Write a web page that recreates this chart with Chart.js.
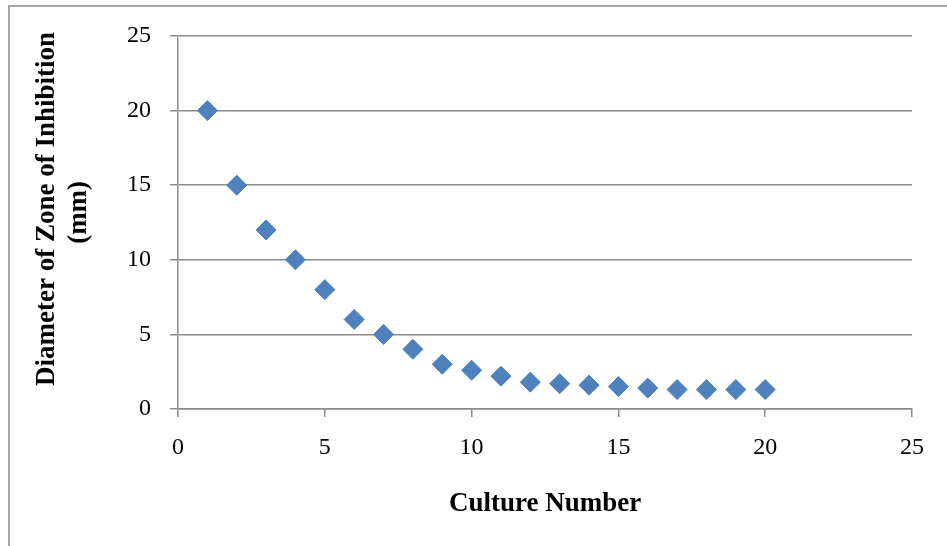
<!DOCTYPE html>
<html>

<head>
  <title>Culture Number vs Zone of Inhibition</title>
  <!-- Include Chart.js -->
  <script src="https://cdn.jsdelivr.net/npm/chart.js"></script>
</head>

<body>
  <!-- Outer chart frame -->
  <div id="frame"></div>

  <!-- Chart Container -->
  <div id="chartContainer">
    <canvas id="zoneChart" width="947" height="546"></canvas>
  </div>

  <script>
    // Data
    const cultureNumbers = [1, 2, 3, 4, 5, 6, 7, 8, 9, 10, 11, 12, 13, 14, 15, 16, 17, 18, 19, 20];
    const zoneDiameters = [20, 15, 12, 10, 8, 6, 5, 4, 3, 2.6, 2.2, 1.8, 1.7, 1.6, 1.5, 1.4, 1.3, 1.3, 1.3, 1.3];
    const xTickValues = [0, 5, 10, 15, 20, 25];
    const yTickValues = [0, 5, 10, 15, 20, 25];

    const points = cultureNumbers.map((x, i) => ({ x: x, y: zoneDiameters[i] }));

    const serif = "'Liberation Serif', 'Times New Roman', serif";
    const gridColor = "#8c8c8c";

    const ctx = document.getElementById("zoneChart").getContext("2d");
    const zoneChart = new Chart(ctx, {
      type: "scatter",
      data: {
        datasets: [{
          label: "Diameter of Zone of Inhibition",
          data: points,
          pointStyle: "rectRot",
          pointRadius: 10,
          pointHoverRadius: 10,
          backgroundColor: "#4f81bd",
          borderColor: "#4a7ebb",
          borderWidth: 1,
        }],
      },
      options: {
        responsive: false,
        animation: false,
        layout: {
          padding: { left: 0, top: 36, right: 35, bottom: 0 },
        },
        plugins: {
          legend: { display: false },
          tooltip: { enabled: false },
        },
        scales: {
          x: {
            type: "linear",
            min: 0,
            max: 25,
            afterBuildTicks: (scale) => {
              scale.ticks = xTickValues.map((v) => ({ value: v }));
            },
            afterFit: (scale) => {
              scale.height = 137;
            },
            ticks: {
              color: "#000",
              padding: 16,
              maxRotation: 0,
              font: { family: serif, size: 24 },
            },
            grid: {
              drawOnChartArea: false,
              drawTicks: true,
              tickLength: 8,
              color: gridColor,
              lineWidth: 1.5,
            },
            border: { color: gridColor, width: 1.5 },
            title: {
              display: true,
              text: "Culture Number",
              color: "#000",
              padding: { top: 0, bottom: 26 },
              font: { family: serif, size: 27, weight: "bold", lineHeight: 1.15 },
            },
          },
          y: {
            type: "linear",
            min: 0,
            max: 25,
            afterBuildTicks: (scale) => {
              scale.ticks = yTickValues.map((v) => ({ value: v }));
            },
            afterFit: (scale) => {
              scale.width = 178;
            },
            ticks: {
              color: "#000",
              padding: 19,
              font: { family: serif, size: 24 },
            },
            grid: {
              drawTicks: true,
              tickLength: 8,
              color: gridColor,
              lineWidth: 1.5,
            },
            border: { color: gridColor, width: 1.5 },
            title: {
              display: true,
              // leading spaces nudge the rotated lines up a little, as in the original
              text: ["    Diameter of Zone of Inhibition", "   (mm)"],
              color: "#000",
              padding: { top: 32, bottom: 0 },
              font: { family: serif, size: 27, weight: "bold", lineHeight: 1.15 },
            },
          },
        },
      },
    });
  </script>

  <!-- Styles -->
  <style>
    html,
    body {
      margin: 0;
      padding: 0;
      background-color: #ffffff;
      overflow: hidden;
    }

    #frame {
      position: absolute;
      left: 8px;
      top: 5px;
      width: 1000px;
      height: 600px;
      border: 2px solid #a6a6a6;
    }

    #chartContainer {
      position: absolute;
      left: 0;
      top: 0;
      width: 947px;
      height: 546px;
    }
  </style>
</body>

</html>
